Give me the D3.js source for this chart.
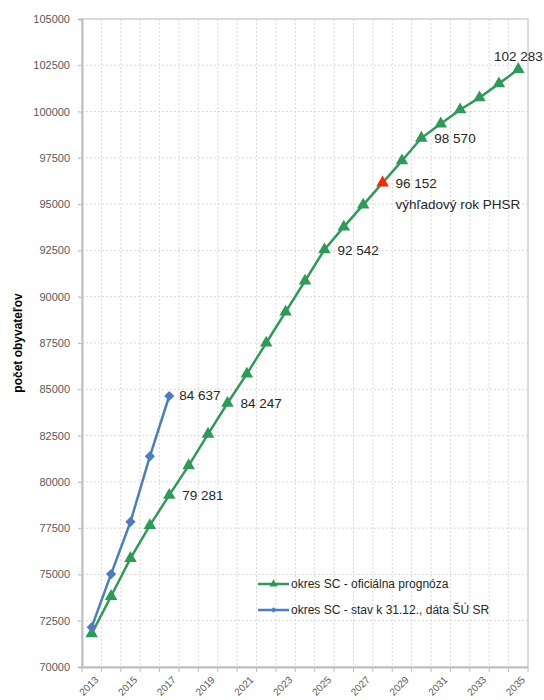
<!DOCTYPE html>
<html>
<head>
<meta charset="utf-8">
<script src="https://cdn.jsdelivr.net/npm/d3@7"></script>
<style>
  body { margin: 0; background: #fff; }
  svg { display: block; font-family: 'Liberation Sans', Arial, sans-serif; }
</style>
</head>
<body>
<svg width="544" height="700"></svg>
<script>
const years = d3.range(2013, 2036);
const prognoza = [71800, 73820, 75870, 77650, 79281, 80880, 82580, 84247, 85830, 87500,
    89180, 90850, 92542, 93770, 94960, 96152, 97345, 98570, 99340, 100100,
    100750, 101510, 102283];
const stavYears = [2013, 2014, 2015, 2016, 2017];
const stav = [72150, 75020, 77840, 81380, 84637];
const yTicks = d3.range(70000, 105001, 2500);
const xTickYears = years.filter((d, i) => i % 2 === 0);
const targetYear = 2028;
const prognozaLabelYears = [2017, 2020, 2025, 2028, 2030, 2035];
const stavLabelYears = [2017];
const targetNote = 'výhľadový rok PHSR';
const legendNames = ['okres SC - oficiálna prognóza', 'okres SC - stav k 31.12., dáta ŠÚ SR'];

const green = '#2e9a58';
const blue = '#4a7ebf';
const red = '#ff2400';
const fmt = v => d3.format(',')(v).replace(/,/g, ' ');

const svg = d3.select('svg');
const plotL = 82, plotR = 528, plotT = 19, plotB = 667;

const x = d3.scaleBand().domain(years).range([plotL, plotR]).padding(0);
const cx = d => x(d) + x.bandwidth() / 2;
const y = d3.scaleLinear().domain([70000, 105000]).range([plotB, plotT]);

// grid
svg.append('g')
    .selectAll('line')
    .data(yTicks.slice(1, -1))
    .join('line')
    .attr('x1', plotL - 4).attr('x2', plotR)
    .attr('y1', d => y(d)).attr('y2', d => y(d))
    .attr('stroke', '#d9d9d9').attr('stroke-dasharray', '2,2');

svg.append('g')
    .selectAll('line')
    .data(years.slice(1))
    .join('line')
    .attr('x1', d => x(d)).attr('x2', d => x(d))
    .attr('y1', plotT).attr('y2', plotB)
    .attr('stroke', '#d9d9d9').attr('stroke-dasharray', '2,2');

// frame
svg.append('rect')
    .attr('x', plotL).attr('y', plotT)
    .attr('width', plotR - plotL).attr('height', plotB - plotT)
    .attr('fill', 'none').attr('stroke', '#d0d0d0').attr('stroke-width', 1.5);

// y axis
const yAxis = svg.append('g')
    .attr('transform', `translate(${plotL},0)`)
    .call(d3.axisLeft(y).tickValues(yTicks).tickFormat(d3.format('d')).tickSize(4).tickPadding(8));
yAxis.select('.domain').attr('stroke', '#bfbfbf').attr('stroke-width', 2);
yAxis.selectAll('.tick line').attr('stroke', '#bfbfbf');
yAxis.selectAll('text').attr('fill', '#595959').attr('font-size', 11);

// x axis
const xAxis = svg.append('g')
    .attr('transform', `translate(0,${plotB})`)
    .call(d3.axisBottom(x).tickValues(xTickYears).tickSize(0).tickFormat(d3.format('d')));
xAxis.select('.domain').attr('stroke', '#bfbfbf').attr('stroke-width', 2);
xAxis.selectAll('text')
    .attr('fill', '#595959').attr('font-size', 10)
    .attr('text-anchor', 'end')
    .attr('x', 0).attr('y', 0).attr('dy', '0.35em')
    .attr('transform', 'translate(5,11) rotate(-45)');

svg.append('g')
    .selectAll('line')
    .data(years.concat([null]))
    .join('line')
    .attr('x1', d => d === null ? plotR : x(d))
    .attr('x2', d => d === null ? plotR : x(d))
    .attr('y1', plotB).attr('y2', plotB + 5)
    .attr('stroke', '#bfbfbf');

svg.append('text')
    .attr('transform', `translate(22,${(plotT + plotB) / 2}) rotate(-90)`)
    .attr('text-anchor', 'middle')
    .attr('font-size', 12).attr('font-weight', 'bold')
    .attr('fill', '#000')
    .text('počet obyvateľov');

// series
const line = d3.line().x(d => cx(d[0])).y(d => y(d[1]));
const progData = years.map((yr, i) => [yr, prognoza[i]]);
const stavData = stavYears.map((yr, i) => [yr, stav[i]]);

svg.append('path').datum(progData)
    .attr('d', line).attr('fill', 'none')
    .attr('stroke', green).attr('stroke-width', 2.5);

svg.append('path').datum(stavData)
    .attr('d', line).attr('fill', 'none')
    .attr('stroke', blue).attr('stroke-width', 2.5);

const tri = d3.symbol(d3.symbolTriangle, 68);
const dia = d3.symbol(d3.symbolSquare, 52);

svg.append('g')
    .selectAll('path')
    .data(progData)
    .join('path')
    .attr('d', tri)
    .attr('transform', d => `translate(${cx(d[0])},${y(d[1])})`)
    .attr('fill', d => d[0] === targetYear ? red : green);

svg.append('g')
    .selectAll('path')
    .data(stavData)
    .join('path')
    .attr('d', dia)
    .attr('transform', d => `translate(${cx(d[0])},${y(d[1])}) rotate(45)`)
    .attr('fill', blue);

// data labels
const labelG = svg.append('g').attr('font-size', 13.5).attr('fill', '#262626');
progData.filter(d => prognozaLabelYears.includes(d[0])).forEach(d => {
    const last = d[0] === years[years.length - 1];
    labelG.append('text')
        .attr('x', last ? cx(d[0]) : cx(d[0]) + 13)
        .attr('y', last ? y(d[1]) - 8 : y(d[1]) + 5)
        .attr('text-anchor', last ? 'middle' : 'start')
        .text(fmt(d[1]));
    if (d[0] === targetYear) {
        labelG.append('text')
            .attr('x', cx(d[0]) + 13)
            .attr('y', y(d[1]) + 26)
            .text(targetNote);
    }
});
stavData.filter(d => stavLabelYears.includes(d[0])).forEach(d => {
    labelG.append('text')
        .attr('x', cx(d[0]) + 10)
        .attr('y', y(d[1]) + 4)
        .text(fmt(d[1]));
});

// legend
const legend = svg.append('g').attr('transform', 'translate(258,584)');
const legendItems = [
    { name: legendNames[0], color: green, sym: d3.symbol(d3.symbolTriangle, 30), rot: 0 },
    { name: legendNames[1], color: blue, sym: d3.symbol(d3.symbolSquare, 16), rot: 45 }
];
legendItems.forEach((it, i) => {
    const g = legend.append('g').attr('transform', `translate(0,${i * 26})`);
    g.append('line').attr('x1', 0).attr('x2', 31)
        .attr('stroke', it.color).attr('stroke-width', 2.5);
    g.append('path').attr('d', it.sym)
        .attr('transform', `translate(15.5,0) rotate(${it.rot})`).attr('fill', it.color);
    g.append('text').attr('x', 33).attr('dy', '0.35em')
        .attr('font-size', 12).attr('fill', '#262626')
        .text(it.name);
});
</script>
</body>
</html>
